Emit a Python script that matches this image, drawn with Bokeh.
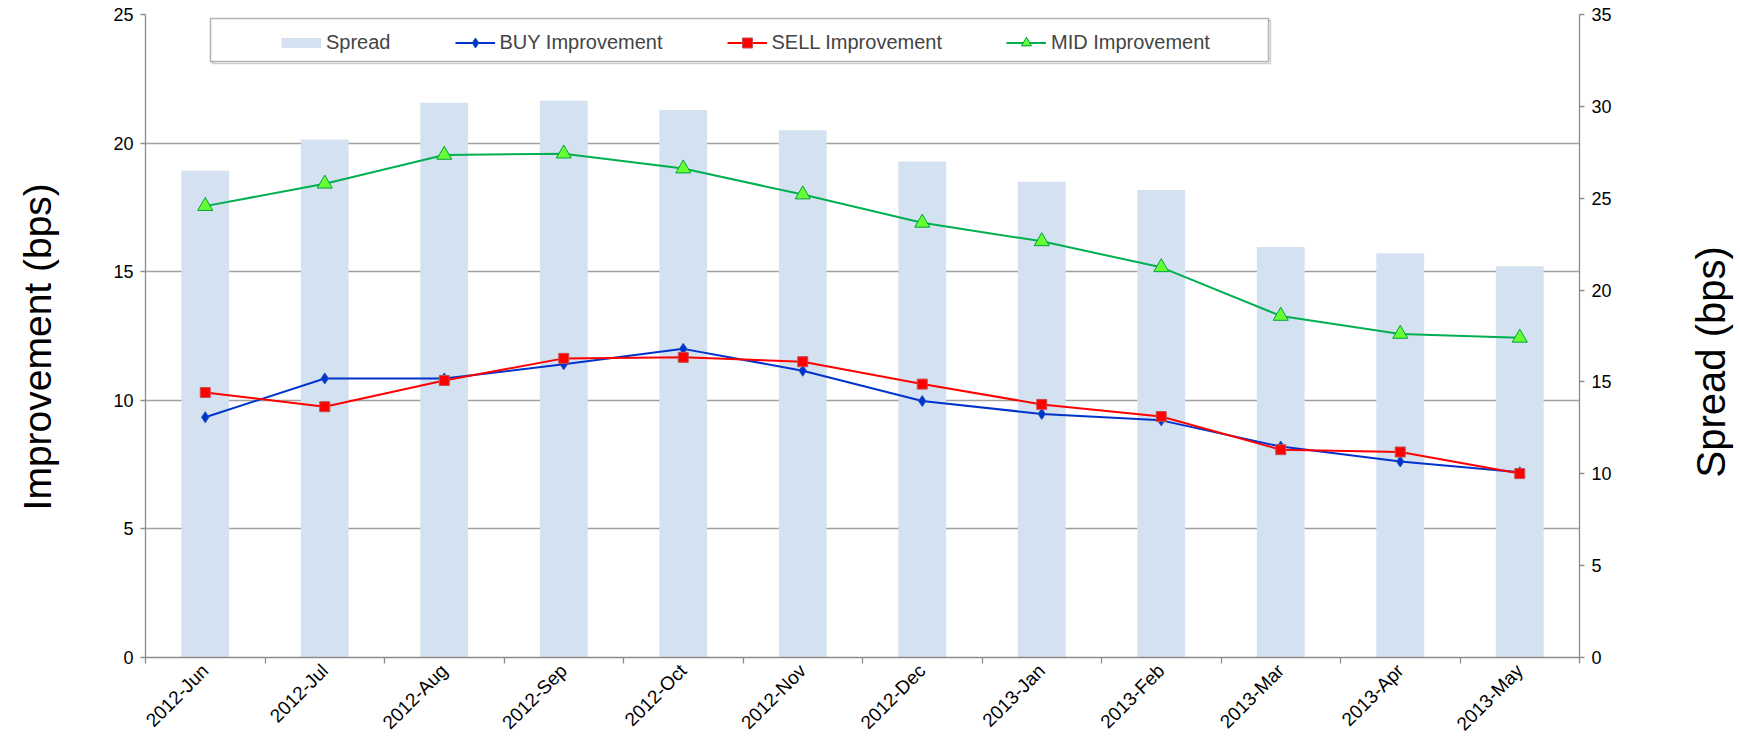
import math
from bokeh.plotting import figure
from bokeh.layouts import row
from bokeh.models import (Range1d, LinearAxis, FixedTicker, Legend, LegendItem,
                          BoxAnnotation, Label)
from bokeh.embed import file_html
from bokeh.resources import INLINE

months = ["2012-Jun", "2012-Jul", "2012-Aug", "2012-Sep", "2012-Oct", "2012-Nov",
          "2012-Dec", "2013-Jan", "2013-Feb", "2013-Mar", "2013-Apr", "2013-May"]
spread = [26.5, 28.2, 30.2, 30.3, 29.8, 28.7, 27.0, 25.9, 25.45, 22.35, 22.0, 21.3]
buy = [9.34, 10.85, 10.85, 11.4, 12.0, 11.15, 9.97, 9.47, 9.22, 8.2, 7.62, 7.2]
sell = [10.3, 9.75, 10.77, 11.63, 11.67, 11.5, 10.63, 9.84, 9.37, 8.08, 7.99, 7.15]
mid = [17.55, 18.42, 19.54, 19.59, 19.01, 18.0, 16.9, 16.18, 15.17, 13.28, 12.58, 12.43]
imp_ticks = [0, 5, 10, 15, 20, 25]
spread_ticks = [0, 5, 10, 15, 20, 25, 30, 35]
left_title = "Improvement (bps)"
right_title = "Spread  (bps)"

xs = [i + 0.5 for i in range(len(months))]
bounds = list(range(len(months) + 1))

FONT = "Liberation Sans"
AXIS_GRAY = "#8c8c8c"
BAR_BLUE = "#d3e1f1"
H = 745
WL, WR = 75, 70


def title_panel(w, text, cx, cy, size):
    f = figure(width=w, height=H, x_range=Range1d(0, w), y_range=Range1d(0, H),
               output_backend="svg", toolbar_location=None,
               x_axis_location=None, y_axis_location=None, min_border=0)
    f.outline_line_color = None
    f.grid.visible = False
    f.add_layout(Label(text=text, x=cx, y=H - cy, angle=math.pi / 2,
                       text_align="center", text_baseline="middle",
                       text_font=FONT, text_font_size=size,
                       text_color="black"))
    return f


p = figure(width=1740 - WL - WR, height=H, x_range=Range1d(0, len(months)),
           y_range=Range1d(imp_ticks[0], imp_ticks[-1]),
           output_backend="svg", toolbar_location=None,
           min_border_left=70, min_border_right=91, min_border_top=14,
           min_border_bottom=87)
p.outline_line_color = None
p.extra_y_ranges = {"spread": Range1d(spread_ticks[0], spread_ticks[-1])}

bars = p.vbar(x=xs, top=spread, width=0.4, bottom=0, y_range_name="spread",
              fill_color=BAR_BLUE, line_color=None)
# legend swatch for the bars: a one-point line draws nothing in the plot
bar_key = p.line(x=xs[:1], y=spread[:1], y_range_name="spread",
                 line_color=BAR_BLUE, line_width=10)

l_buy = p.line(xs, buy, line_color="#0033cc", line_width=2)
s_buy = p.scatter(xs, buy, marker="diamond", size=11,
                  fill_color="#0033cc", line_color="#2050c0")
l_sell = p.line(xs, sell, line_color="#ff0000", line_width=2)
s_sell = p.scatter(xs, sell, marker="square", size=10,
                   fill_color="#ff0000", line_color="#c05050")
l_mid = p.line(xs, mid, line_color="#00b050", line_width=2)
s_mid = p.scatter(xs, mid, marker="triangle", size=15,
                  fill_color="#66ff33", line_color="#00a040")

# x axis: labels at bar centres, ticks at category boundaries
xa = p.xaxis[0]
xa.ticker = FixedTicker(ticks=xs, minor_ticks=bounds)
xa.major_label_overrides = {x: m for x, m in zip(xs, months)}
xa.major_label_orientation = math.pi / 4
xa.major_tick_line_color = None
xa.minor_tick_in = 0
xa.minor_tick_out = 6
xa.minor_tick_line_color = AXIS_GRAY
xa.minor_tick_line_width = 1.3
xa.axis_line_color = AXIS_GRAY
xa.axis_line_width = 1.3
xa.major_label_text_font = FONT
xa.major_label_text_font_size = "19px"
xa.major_label_text_color = "black"
xa.major_label_standoff = 4

ya = p.yaxis[0]
ya.ticker = FixedTicker(ticks=imp_ticks)

ra = LinearAxis(y_range_name="spread", ticker=FixedTicker(ticks=spread_ticks))
p.add_layout(ra, "right")

for ax in (ya, ra):
    ax.minor_tick_line_color = None
    ax.major_tick_in = 0
    ax.major_tick_out = 5
    ax.major_tick_line_color = AXIS_GRAY
    ax.major_tick_line_width = 1.3
    ax.axis_line_color = AXIS_GRAY
    ax.axis_line_width = 1.3
    ax.major_label_text_font = FONT
    ax.major_label_text_font_size = "18px"
    ax.major_label_text_color = "black"
    ax.major_label_standoff = 7

p.xgrid.visible = False
p.ygrid.ticker = FixedTicker(ticks=imp_ticks)
p.ygrid.grid_line_color = "#a0a0a0"
p.ygrid.grid_line_width = 1.3

# legend frame
shadow = BoxAnnotation(left=67, right=1125, top=637, bottom=594,
                       left_units="screen", right_units="screen",
                       top_units="screen", bottom_units="screen",
                       fill_color=None, line_color="#606060", line_width=1.5,
                       level="overlay")
box = BoxAnnotation(left=65, right=1123, top=639, bottom=596,
                    left_units="screen", right_units="screen",
                    top_units="screen", bottom_units="screen",
                    fill_color="white", fill_alpha=1.0, line_color="black",
                    line_width=1.5, level="overlay")
p.add_layout(shadow)
p.add_layout(box)

legend = Legend(items=[
    LegendItem(label="Spread", renderers=[bar_key]),
    LegendItem(label="BUY Improvement", renderers=[l_buy, s_buy]),
    LegendItem(label="SELL Improvement", renderers=[l_sell, s_sell]),
    LegendItem(label="MID Improvement", renderers=[l_mid, s_mid]),
], orientation="horizontal", location=(136, 602), padding=0, margin=0,
    spacing=64, glyph_width=40, glyph_height=25, label_standoff=5,
    label_text_font=FONT, label_text_font_size="20px",
    border_line_color=None, background_fill_alpha=0.0)
p.add_layout(legend, "center")

pl = title_panel(WL, left_title, 36.7, 385, "39px")
pr = title_panel(WR, right_title, 40.7, 396, "40px")

layout = row(pl, p, pr)
open("out.html", "w").write(file_html(layout, INLINE))
